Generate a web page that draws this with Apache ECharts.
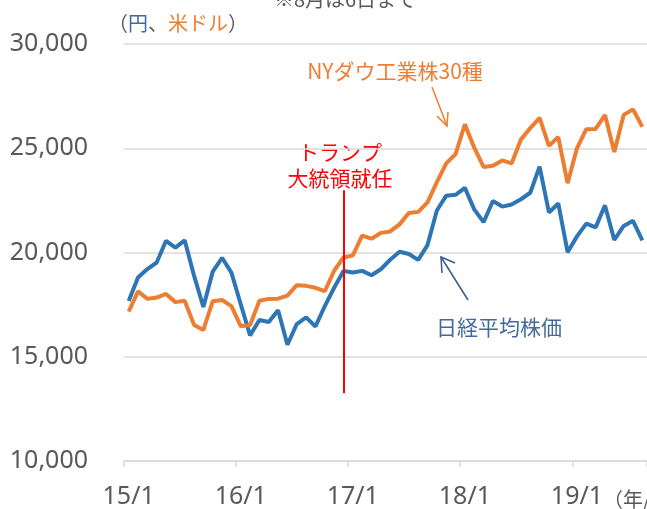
<!DOCTYPE html>
<html>
<head>
<meta charset="utf-8">
<script src="https://cdn.jsdelivr.net/npm/echarts@6/dist/echarts.min.js"></script>
<style>
  html, body { margin: 0; padding: 0; background: #fff; }
  #chart { width: 647px; height: 509px; }
</style>
</head>
<body>
<div id="chart"></div>
<script>
// 月末値（19/8 は 6日まで）
const months = [
  '15/1', '15/2', '15/3', '15/4', '15/5', '15/6', '15/7', '15/8', '15/9', '15/10', '15/11', '15/12',
  '16/1', '16/2', '16/3', '16/4', '16/5', '16/6', '16/7', '16/8', '16/9', '16/10', '16/11', '16/12',
  '17/1', '17/2', '17/3', '17/4', '17/5', '17/6', '17/7', '17/8', '17/9', '17/10', '17/11', '17/12',
  '18/1', '18/2', '18/3', '18/4', '18/5', '18/6', '18/7', '18/8', '18/9', '18/10', '18/11', '18/12',
  '19/1', '19/2', '19/3', '19/4', '19/5', '19/6', '19/7', '19/8'
]

const nikkei = [
  17674, 18798, 19207, 19520, 20563, 20236, 20585, 18890, 17388, 19083, 19747, 19034,
  17518, 16027, 16759, 16666, 17235, 15576, 16569, 16887, 16450, 17425, 18308, 19114,
  19041, 19119, 18909, 19197, 19651, 20033, 19925, 19646, 20356, 22012, 22725, 22765,
  23098, 22068, 21454, 22468, 22202, 22305, 22554, 22865, 24120, 21920, 22351, 20015,
  20773, 21385, 21206, 22259, 20601, 21276, 21522, 20585
]

const nyDow = [
  17165, 18133, 17776, 17841, 18011, 17620, 17690, 16528, 16285, 17664, 17720, 17425,
  16466, 16517, 17685, 17774, 17787, 17930, 18432, 18401, 18308, 18142, 19124, 19763,
  19864, 20812, 20663, 20941, 21009, 21350, 21891, 21948, 22405, 23377, 24272, 24719,
  26149, 25029, 24103, 24163, 24416, 24271, 25415, 25965, 26458, 25116, 25538, 23327,
  24999, 25916, 25929, 26593, 24815, 26600, 26864, 26030
]

// トランプ大統領就任の縦線
const inaugMonth = '16/12'
const inaugRange = [22980, 13250]

const yTicks = { min: 10000, max: 30000, interval: 5000 }

const jp = '"Noto Sans CJK JP", sans-serif'
const num = '"Noto Sans", sans-serif'
const gray = '#595959'
const orange = '#ED7D31'
const blue = '#2E75B6'
const navy = '#44699E'

const isJan = (i) => i % 12 === 0

const chart = echarts.init(document.getElementById('chart'))

chart.setOption({
  animation: false,
  grid: { left: 124, right: 0, top: 44, bottom: 46 },
  xAxis: {
    type: 'category',
    data: months,
    boundaryGap: true,
    axisLine: { lineStyle: { color: '#D9D9D9', width: 1.5 } },
    axisTick: { show: true, length: 6, interval: isJan, lineStyle: { color: '#D9D9D9', width: 1.5 } },
    axisLabel: { interval: isJan, margin: 23, fontSize: 25, color: gray, fontFamily: num },
    splitLine: { show: false }
  },
  yAxis: {
    type: 'value',
    min: yTicks.min,
    max: yTicks.max,
    interval: yTicks.interval,
    axisLine: { show: false },
    axisTick: { show: false },
    axisLabel: {
      margin: 36,
      fontSize: 25,
      color: gray,
      fontFamily: num,
      formatter: (v) => v.toLocaleString('en-US')
    },
    splitLine: { lineStyle: { color: '#D9D9D9', width: 1.5 } }
  },
  series: [
    {
      name: '日経平均株価',
      type: 'line',
      data: nikkei,
      showSymbol: false,
      lineStyle: { color: blue, width: 4 },
      itemStyle: { color: blue }
    },
    {
      name: 'NYダウ工業株30種',
      type: 'line',
      data: nyDow,
      showSymbol: false,
      lineStyle: { color: orange, width: 4 },
      itemStyle: { color: orange },
      markLine: {
        silent: true,
        symbol: ['none', 'none'],
        label: { show: false },
        lineStyle: { color: '#FF0000', width: 2, type: 'solid' },
        data: [[
          { coord: [inaugMonth, inaugRange[0]] },
          { coord: [inaugMonth, inaugRange[1]] }
        ]]
      }
    }
  ],
  graphic: [
    {
      type: 'text', x: 345, y: -1,
      style: { text: '※8月は6日まで', font: '20px ' + jp, fill: gray, align: 'center', verticalAlign: 'middle' }
    },
    {
      type: 'text', x: 108, y: 23,
      style: {
        text: '{p|（}{b|円}{p|、}{o|米ドル}{p|）}',
        verticalAlign: 'middle',
        rich: {
          p: { font: '20px ' + jp, fill: gray },
          b: { font: '20px ' + jp, fill: navy },
          o: { font: '20px ' + jp, fill: orange }
        }
      }
    },
    {
      type: 'text', x: 340, y: 152,
      style: { text: 'トランプ', font: '21px ' + jp, fill: '#FF0000', align: 'center', verticalAlign: 'middle' }
    },
    {
      type: 'text', x: 340, y: 178,
      style: { text: '大統領就任', font: '21px ' + jp, fill: '#FF0000', align: 'center', verticalAlign: 'middle' }
    },
    {
      type: 'text', x: 395, y: 71,
      style: { text: 'NYダウ工業株30種', font: '21px ' + jp, fill: orange, align: 'center', verticalAlign: 'middle' }
    },
    {
      type: 'polyline',
      shape: { points: [[432, 87], [447, 126]] },
      style: { stroke: orange, lineWidth: 1.5, fill: null }
    },
    {
      type: 'polyline',
      shape: { points: [[437, 116], [447, 126], [448, 112]] },
      style: { stroke: orange, lineWidth: 1.5, fill: null }
    },
    {
      type: 'text', x: 499, y: 327,
      style: { text: '日経平均株価', font: '21px ' + jp, fill: navy, align: 'center', verticalAlign: 'middle' }
    },
    {
      type: 'polyline',
      shape: { points: [[468, 300], [441, 257]] },
      style: { stroke: '#3B5A8A', lineWidth: 1.5, fill: null }
    },
    {
      type: 'polyline',
      shape: { points: [[442, 273], [441, 257], [455, 263]] },
      style: { stroke: '#3B5A8A', lineWidth: 1.5, fill: null }
    },
    {
      type: 'text', x: 603, y: 499,
      style: { text: '（年/月）', font: '20px ' + jp, fill: gray, verticalAlign: 'middle' }
    }
  ]
})
</script>
</body>
</html>
